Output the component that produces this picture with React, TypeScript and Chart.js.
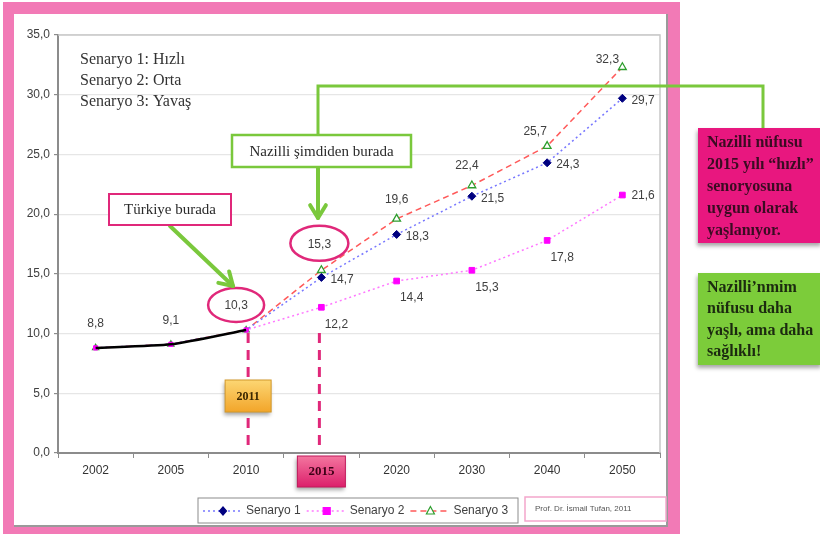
import React, { useEffect, useRef } from 'react';
import { Chart, registerables } from 'chart.js';
Chart.register(...registerables);

const years = ['2002', '2005', '2010', '2015', '2020', '2030', '2040', '2050'];
const history = [8.8, 9.1, 10.3, null, null, null, null, null];
const senaryo1 = [8.8, 9.1, 10.3, 14.7, 18.3, 21.5, 24.3, 29.7];
const senaryo2 = [8.8, 9.1, 10.3, 12.2, 14.4, 15.3, 17.8, 21.6];
const senaryo3 = [8.8, 9.1, 10.3, 15.3, 19.6, 22.4, 25.7, 32.3];
const yTicks = [0, 5, 10, 15, 20, 25, 30, 35];
const seriesNames = ['Senaryo 1', 'Senaryo 2', 'Senaryo 3'];
const scenarioNotes = ['Senaryo 1: Hızlı', 'Senaryo 2: Orta', 'Senaryo 3: Yavaş'];
const pinkNote = ['Nazilli nüfusu', '2015 yılı “hızlı”', 'senoryosuna', 'uygun olarak', 'yaşlanıyor.'];
const greenNote = ['Nazilli’nmim', 'nüfusu daha', 'yaşlı, ama daha', 'sağlıklı!'];
const credit = 'Prof. Dr. İsmail Tufan, 2011';

const SERIF = '"Liberation Serif", "DejaVu Serif", serif';
const SANS = '"Liberation Sans", Arial, sans-serif';
const PINK = '#e0287a';
const GREEN = '#7ac83c';

const fmt = (v: number) => v.toFixed(1).replace('.', ',');

function arrow(ctx: CanvasRenderingContext2D, x1: number, y1: number, x2: number, y2: number, color: string, w: number) {
  ctx.save();
  ctx.strokeStyle = color;
  ctx.lineWidth = w;
  ctx.lineCap = 'round';
  ctx.lineJoin = 'round';
  ctx.beginPath();
  ctx.moveTo(x1, y1);
  ctx.lineTo(x2, y2);
  ctx.stroke();
  const a = Math.atan2(y2 - y1, x2 - x1);
  const L = 15;
  ctx.beginPath();
  ctx.moveTo(x2 - L * Math.cos(a - 0.55), y2 - L * Math.sin(a - 0.55));
  ctx.lineTo(x2, y2);
  ctx.lineTo(x2 - L * Math.cos(a + 0.55), y2 - L * Math.sin(a + 0.55));
  ctx.stroke();
  ctx.restore();
}

function rectBox(ctx: CanvasRenderingContext2D, x: number, y: number, w: number, h: number, fill: any, stroke: string | null, lw: number, shadow = false) {
  ctx.save();
  if (shadow) {
    ctx.shadowColor = 'rgba(0,0,0,0.35)';
    ctx.shadowBlur = 4;
    ctx.shadowOffsetX = -1;
    ctx.shadowOffsetY = 3;
  }
  if (fill) {
    ctx.fillStyle = fill;
    ctx.fillRect(x, y, w, h);
  }
  ctx.restore();
  if (stroke) {
    ctx.save();
    ctx.strokeStyle = stroke;
    ctx.lineWidth = lw;
    ctx.strokeRect(x, y, w, h);
    ctx.restore();
  }
}

const labelPlugin = {
  id: 'labels',
  afterDatasetsDraw(chart: any) {
    const ctx = chart.ctx as CanvasRenderingContext2D;
    ctx.save();
    ctx.font = `12px ${SANS}`;
    ctx.fillStyle = '#404040';
    ctx.textBaseline = 'middle';
    const pos = (di: number, i: number) => chart.getDatasetMeta(di).data[i];
    // history labels
    history.forEach((v, i) => {
      if (v == null) return;
      const p = pos(0, i);
      ctx.textAlign = 'center';
      ctx.fillText(fmt(v), p.x + (i === 2 ? -10 : 0), p.y - 24);
    });
    senaryo1.forEach((v, i) => {
      if (i < 3) return;
      const p = pos(1, i);
      ctx.textAlign = 'left';
      ctx.fillText(fmt(v), p.x + 9, p.y + 2);
    });
    senaryo2.forEach((v, i) => {
      if (i < 3) return;
      const p = pos(2, i);
      if (i === senaryo2.length - 1) {
        ctx.textAlign = 'left';
        ctx.fillText(fmt(v), p.x + 9, p.y + 1);
      } else {
        ctx.textAlign = 'center';
        ctx.fillText(fmt(v), p.x + 15, p.y + 17);
      }
    });
    const s3off = [[0, 0], [0, 0], [0, 0], [-2, -26], [0, -19], [-5, -20], [-12, -14], [-15, -8]];
    senaryo3.forEach((v, i) => {
      if (i < 3) return;
      const p = pos(3, i);
      ctx.textAlign = 'center';
      ctx.fillText(fmt(v), p.x + s3off[i][0], p.y + s3off[i][1]);
    });
    ctx.restore();
  },
};

const decorPlugin = {
  id: 'decor',
  beforeDraw(chart: any) {
    const ctx = chart.ctx as CanvasRenderingContext2D;
    ctx.save();
    ctx.fillStyle = '#ffffff';
    ctx.fillRect(0, 0, chart.width, chart.height);
    ctx.fillStyle = '#f27ab6';
    ctx.fillRect(3, 2, 677, 532);
    ctx.fillStyle = '#ffffff';
    ctx.fillRect(14, 14, 654, 513);
    ctx.strokeStyle = '#9a9a9a';
    ctx.lineWidth = 2;
    ctx.beginPath();
    ctx.moveTo(667, 14);
    ctx.lineTo(667, 526);
    ctx.lineTo(14, 526);
    ctx.stroke();
    ctx.restore();
  },
  afterDraw(chart: any) {
    const ctx = chart.ctx as CanvasRenderingContext2D;
    const xs = chart.scales.x;
    const ys = chart.scales.y;
    const ca = chart.chartArea;
    ctx.save();
    // plot border top/right
    ctx.strokeStyle = '#c8c8c8';
    ctx.lineWidth = 1.5;
    ctx.beginPath();
    ctx.moveTo(ca.left, ca.top);
    ctx.lineTo(ca.right, ca.top);
    ctx.lineTo(ca.right, ca.bottom);
    ctx.stroke();

    // pink dashed verticals
    const x2010 = xs.getPixelForValue(2) + 2;
    const x2015 = xs.getPixelForValue(3) - 2;
    const yStart = ys.getPixelForValue(10.3) + 3;
    ctx.strokeStyle = PINK;
    ctx.lineWidth = 3;
    ctx.setLineDash([10, 7]);
    [x2010, x2015].forEach((x) => {
      ctx.beginPath();
      ctx.moveTo(x, yStart);
      ctx.lineTo(x, ca.bottom - 8);
      ctx.stroke();
    });
    ctx.setLineDash([]);

    // 2011 box
    let g = ctx.createLinearGradient(0, 380, 0, 412);
    g.addColorStop(0, '#fcd673');
    g.addColorStop(1, '#f2a52a');
    rectBox(ctx, x2010 - 23, 380, 46, 32, g, '#d2982a', 1, true);
    ctx.fillStyle = '#3a2600';
    ctx.font = `bold 12px ${SERIF}`;
    ctx.textAlign = 'center';
    ctx.textBaseline = 'middle';
    ctx.fillText('2011', x2010, 397);

    // 2015 box on axis
    const xc15 = xs.getPixelForValue(3);
    g = ctx.createLinearGradient(0, 456, 0, 487);
    g.addColorStop(0, '#f3769f');
    g.addColorStop(1, '#dc1f6b');
    rectBox(ctx, xc15 - 24, 456, 48, 31, g, '#c0185a', 1, true);
    ctx.fillStyle = '#3d0016';
    ctx.font = `bold 13px ${SERIF}`;
    ctx.fillText(years[3], xc15, 472);

    // ellipses around 10,3 and 15,3
    const p10 = chart.getDatasetMeta(0).data[2];
    const p15 = chart.getDatasetMeta(3).data[3];
    ctx.strokeStyle = PINK;
    ctx.lineWidth = 2.5;
    ctx.beginPath();
    ctx.ellipse(p10.x - 10, p10.y - 25, 28, 17, 0, 0, Math.PI * 2);
    ctx.stroke();
    ctx.beginPath();
    ctx.ellipse(p15.x - 2, p15.y - 27, 29, 17.5, 0, 0, Math.PI * 2);
    ctx.stroke();

    // scenario notes
    ctx.fillStyle = '#333333';
    ctx.font = `16px ${SERIF}`;
    ctx.textAlign = 'left';
    scenarioNotes.forEach((t, i) => ctx.fillText(t, 80, 60 + i * 21));

    // green connector lines
    ctx.strokeStyle = GREEN;
    ctx.lineWidth = 3;
    ctx.beginPath();
    ctx.moveTo(318, 135);
    ctx.lineTo(318, 86);
    ctx.lineTo(763, 86);
    ctx.lineTo(763, 128);
    ctx.stroke();
    arrow(ctx, 318, 167, 318, 218, GREEN, 4);
    arrow(ctx, 170, 226, 233, 286, GREEN, 4);

    // Nazilli şimdiden burada box
    rectBox(ctx, 232, 135, 179, 32, '#ffffff', GREEN, 2.5);
    ctx.fillStyle = '#2a2a2a';
    ctx.font = `15px ${SERIF}`;
    ctx.textAlign = 'center';
    ctx.fillText('Nazilli şimdiden burada', 321.5, 152);

    // Türkiye burada box
    rectBox(ctx, 109, 194, 122, 31, '#ffffff', PINK, 2);
    ctx.fillStyle = '#2a2a2a';
    ctx.fillText('Türkiye burada', 170, 210);

    // right pink note
    rectBox(ctx, 698, 128, 124, 115, '#e8177f', null, 0, true);
    ctx.fillStyle = '#3a0c22';
    ctx.font = `bold 16px ${SERIF}`;
    ctx.textAlign = 'left';
    pinkNote.forEach((t, i) => ctx.fillText(t, 707, 143 + i * 22));

    // right green note
    rectBox(ctx, 698, 273, 124, 92, '#7ccc3a', null, 0, true);
    ctx.fillStyle = '#1c2a10';
    greenNote.forEach((t, i) => ctx.fillText(t, 707, 288 + i * 21.3));

    // legend
    rectBox(ctx, 198, 498, 320, 25, '#ffffff', '#8c8c8c', 1);
    const ds = chart.data.datasets;
    let lx = 203;
    const ly = 511;
    ctx.font = `12px ${SANS}`;
    for (let k = 0; k < 3; k++) {
      const d = ds[k + 1];
      ctx.strokeStyle = d.borderColor;
      ctx.lineWidth = 1.5;
      ctx.setLineDash(d.borderDash || []);
      ctx.beginPath();
      ctx.moveTo(lx, ly);
      ctx.lineTo(lx + 40, ly);
      ctx.stroke();
      ctx.setLineDash([]);
      const mx = lx + 20;
      ctx.fillStyle = d.pointBackgroundColor;
      ctx.strokeStyle = d.pointBorderColor;
      ctx.lineWidth = 1.2;
      ctx.beginPath();
      if (d.pointStyle === 'rectRot') {
        ctx.moveTo(mx, ly - 4); ctx.lineTo(mx + 3.5, ly); ctx.lineTo(mx, ly + 4); ctx.lineTo(mx - 3.5, ly); ctx.closePath();
      } else if (d.pointStyle === 'rect') {
        ctx.rect(mx - 3.5, ly - 3.5, 7, 7);
      } else {
        ctx.moveTo(mx, ly - 4.5); ctx.lineTo(mx + 4, ly + 3); ctx.lineTo(mx - 4, ly + 3); ctx.closePath();
      }
      ctx.fill();
      ctx.stroke();
      ctx.fillStyle = '#404040';
      ctx.textAlign = 'left';
      ctx.fillText(seriesNames[k], lx + 43, ly);
      lx += 43 + ctx.measureText(seriesNames[k]).width + 6;
    }

    // credit
    rectBox(ctx, 525, 497, 141, 24, '#ffffff', '#f4a6cc', 1.5);
    ctx.fillStyle = '#555555';
    ctx.font = `8px ${SANS}`;
    ctx.fillText(credit, 535, 509);
    ctx.restore();
  },
};

export default function App() {
  const ref = useRef<HTMLCanvasElement | null>(null);
  useEffect(() => {
    if (!ref.current) return;
    const chart = new Chart(ref.current, {
      type: 'line',
      data: {
        labels: years,
        datasets: [
          { label: 'Türkiye', data: history, borderColor: '#000000', borderWidth: 2.5, pointRadius: 0, tension: 0.2 },
          {
            label: seriesNames[0], data: senaryo1, borderColor: '#7878ff', borderDash: [2, 3], borderWidth: 1.5,
            pointStyle: 'rectRot', pointRadius: (c: any) => (c.dataIndex < 3 ? 0 : 4),
            pointBackgroundColor: '#000080', pointBorderColor: '#000080', pointBorderWidth: 1,
          },
          {
            label: seriesNames[1], data: senaryo2, borderColor: '#ff78ff', borderDash: [2, 3], borderWidth: 1.5,
            pointStyle: 'rect', pointRadius: (c: any) => (c.dataIndex < 3 ? 3 : 4),
            pointBackgroundColor: '#ff00ff', pointBorderColor: '#ff00ff', pointBorderWidth: 1,
          },
          {
            label: seriesNames[2], data: senaryo3, borderColor: '#ff5a5a', borderDash: [6, 4], borderWidth: 1.5,
            pointStyle: 'triangle', pointRadius: (c: any) => (c.dataIndex < 3 ? 3.5 : 4.5),
            pointBackgroundColor: '#ffffff', pointBorderColor: '#2e9e2e', pointBorderWidth: 1.3,
          },
        ],
      } as any,
      options: {
        animation: false,
        responsive: false,
        events: [],
        layout: { padding: { left: 8, right: 160, top: 35, bottom: 41 } },
        plugins: { legend: { display: false }, tooltip: { enabled: false } },
        scales: {
          x: {
            type: 'category',
            offset: true,
            grid: { display: true, drawOnChartArea: false, drawTicks: true, tickLength: 5, tickColor: '#8c8c8c', offset: true },
            border: { color: '#8c8c8c', width: 2 },
            ticks: { color: '#333333', font: { family: SANS, size: 12 }, padding: 5, maxRotation: 0, autoSkip: false },
            afterFit: (s: any) => { s.height = 40; },
          },
          y: {
            min: 0,
            max: 35,
            afterBuildTicks: (s: any) => { s.ticks = yTicks.map((v) => ({ value: v })); },
            grid: { color: '#e6e6e6', lineWidth: 1.2, tickLength: 4, tickColor: '#8c8c8c' },
            border: { color: '#8c8c8c', width: 2 },
            ticks: { color: '#404040', font: { family: SANS, size: 12 }, padding: 4, callback: (v: any) => fmt(Number(v)) },
            afterFit: (s: any) => { s.width = 50; },
          },
        },
      } as any,
      plugins: [decorPlugin, labelPlugin],
    });
    return () => chart.destroy();
  }, []);
  return (
    <div style={{ position: 'absolute', left: 0, top: 0, width: 820, height: 534 }}>
      <canvas ref={ref} width={820} height={534} style={{ display: 'block', width: 820, height: 534 }} />
    </div>
  );
}
